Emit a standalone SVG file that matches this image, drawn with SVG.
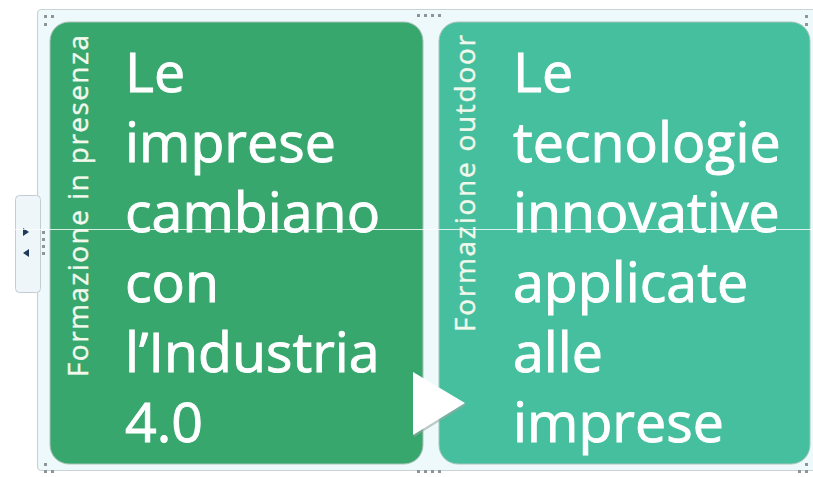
<svg xmlns="http://www.w3.org/2000/svg" width="813" height="477" viewBox="0 0 813 477">
<style>
.main{font-family:"Open Sans","Noto Sans",sans-serif;font-size:55.5px;fill:#ffffff;stroke:#ffffff;stroke-width:0.9}
.side{font-family:"Open Sans","Noto Sans",sans-serif;font-size:28px;fill:#F1F8EC;stroke:#F1F8EC;stroke-width:0.4}
.dot{fill:#8C9698}
.panel{stroke:#A9C4BA;stroke-width:1}
</style>
<rect width="813" height="477" fill="#ffffff"/>
<g id="frame">
<rect x="37.5" y="9.5" width="790" height="461" rx="4" fill="#EEF9FB" stroke="#C9D3D6" stroke-width="1.2"/>
<rect x="15.5" y="195.5" width="25" height="97" rx="4" fill="#EEF6F9" stroke="#C3CDD1"/>
<polygon points="23,228 29,232 23,236" fill="#1F3B5C"/>
<polygon points="29,249 23,253 29,257" fill="#1F3B5C"/>
<g class="dot">
<rect x="42" y="231" width="3" height="3"/><rect x="42" y="238" width="3" height="3"/><rect x="42" y="245" width="3" height="3"/><rect x="42" y="252" width="3" height="3"/>
<rect x="417" y="14" width="3" height="3"/><rect x="424" y="14" width="3" height="3"/><rect x="431" y="14" width="3" height="3"/><rect x="438" y="14" width="3" height="3"/>
<rect x="417" y="470" width="3" height="3"/><rect x="424" y="470" width="3" height="3"/><rect x="431" y="470" width="3" height="3"/><rect x="438" y="470" width="3" height="3"/>
<rect x="44" y="15" width="3" height="3"/><rect x="51" y="15" width="3" height="3"/><rect x="44" y="23" width="3" height="3"/>
<rect x="805" y="15" width="3" height="3"/><rect x="805" y="23" width="3" height="3"/>
<rect x="44" y="463" width="3" height="3"/><rect x="44" y="470" width="3" height="3"/><rect x="51" y="470" width="3" height="3"/>
<rect x="805" y="463" width="3" height="3"/><rect x="805" y="470" width="3" height="3"/><rect x="798" y="470" width="3" height="3"/>
</g>
</g>
<g id="node1">
<rect class="panel" x="50" y="22" width="373" height="442" rx="19" fill="#38A76E"/>
<text class="side" transform="translate(88,35) rotate(-90)" text-anchor="end" textLength="342" lengthAdjust="spacing">Formazione in presenza</text>
<text class="main">
<tspan x="125" y="92">Le</tspan>
<tspan x="125" y="162">imprese</tspan>
<tspan x="125" y="232">cambiano</tspan>
<tspan x="125" y="302">con</tspan>
<tspan x="125" y="372">l’Industria</tspan>
<tspan x="125" y="442">4.0</tspan>
</text>
</g>
<g id="node2">
<rect class="panel" x="439" y="22" width="371" height="442" rx="19" fill="#46BF9F"/>
<text class="side" transform="translate(475,35) rotate(-90)" text-anchor="end" textLength="297" lengthAdjust="spacing">Formazione outdoor</text>
<text class="main">
<tspan x="513" y="92">Le</tspan>
<tspan x="513" y="162">tecnologie</tspan>
<tspan x="513" y="232">innovative</tspan>
<tspan x="513" y="302">applicate</tspan>
<tspan x="513" y="372">alle</tspan>
<tspan x="513" y="442">imprese</tspan>
</text>
</g>
<g id="connectors">
<polygon points="414,374 466,405 414,437" fill="#9AA9A4" opacity="0.6"/>
<polygon points="413,372 465,403 413,435" fill="#ffffff"/>
</g>
<line x1="15" y1="229.5" x2="812" y2="229.5" stroke="#ffffff" stroke-width="1" opacity="0.8"/>
</svg>
